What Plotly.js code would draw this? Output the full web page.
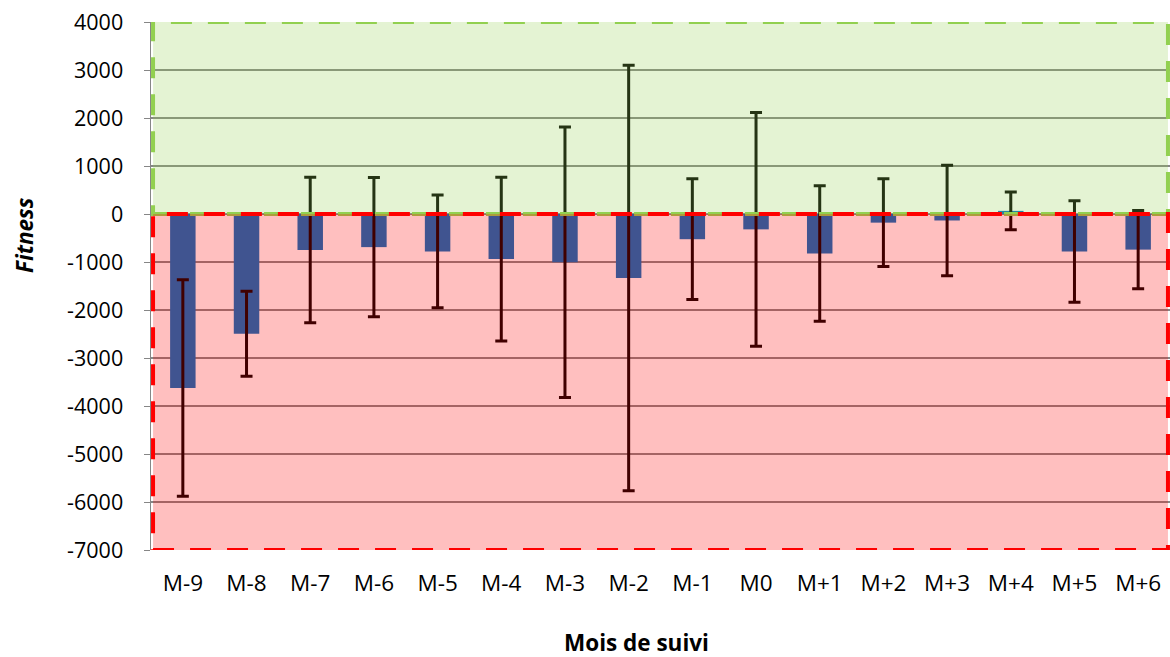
<!DOCTYPE html>
<html>
<head>
<meta charset="utf-8">
<script src="https://cdn.plot.ly/plotly-3.0.1.min.js"></script>
<style>html,body{margin:0;padding:0;background:#fff;}#chart{width:1170px;height:657px;}</style>
</head>
<body>
<div id="chart"></div>
<script>
var categories = ['M-9','M-8','M-7','M-6','M-5','M-4','M-3','M-2','M-1','M0','M+1','M+2','M+3','M+4','M+5','M+6'];
var fitness = [-3625,-2495,-750,-690,-780,-940,-1005,-1335,-525,-320,-822,-180,-135,65,-782,-742];
var fitnessError = [2255,886,1516,1451,1174,1704,2816,4433,1257,2437,1413,913,1149,393,1056,815];
var yTicks = [4000,3000,2000,1000,0,-1000,-2000,-3000,-4000,-5000,-6000,-7000];
var yTickLabels = ['4000','3000','2000','1000','0','-1000','-2000','-3000','-4000','-5000','-6000','-7000'];
var xTitle = 'Mois de suivi';
var yTitle = 'Fitness';

var yMin = Math.min.apply(null, yTicks), yMax = Math.max.apply(null, yTicks);
var boundaries = [];
for (var i = 0; i <= categories.length; i++) boundaries.push(i - 0.5);

var trace = {
  type: 'bar',
  x: categories,
  y: fitness,
  marker: {color: '#0070C0'},
  width: 0.4,
  error_y: {type: 'data', array: fitnessError, visible: true, color: '#000000', thickness: 3, width: 6},
  hoverinfo: 'x+y'
};

var fontFam = 'Open Sans, DejaVu Sans, sans-serif';
var layout = {
  width: 1170, height: 657,
  margin: {l: 151, r: 0, t: 22, b: 107},
  paper_bgcolor: '#ffffff', plot_bgcolor: '#ffffff',
  showlegend: false,
  font: {family: fontFam, color: '#000000', size: 21},
  xaxis: {
    type: 'category', categoryorder: 'array', categoryarray: categories,
    range: [-0.5, categories.length - 0.5],
    showline: false, ticks: '', showgrid: false, zeroline: false,
    tickfont: {family: fontFam, size: 22.5, color: '#000'},
    ticklabelstandoff: 17
  },
  xaxis2: {
    overlaying: 'x', anchor: 'free', position: (0 - yMin) / (yMax - yMin),
    range: [-0.5, categories.length - 0.5],
    tickmode: 'array', tickvals: boundaries, ticks: 'outside', ticklen: 6, tickwidth: 1,
    tickcolor: '#868686', showline: true, linecolor: '#868686', linewidth: 1.5,
    showticklabels: false, showgrid: false, zeroline: false
  },
  yaxis: {
    range: [yMin, yMax], tickmode: 'array', tickvals: yTicks, ticktext: yTickLabels,
    showgrid: true, gridcolor: '#868686', gridwidth: 1.3,
    showline: true, linecolor: '#868686', linewidth: 1.5,
    ticks: 'outside', ticklen: 6, tickcolor: '#868686',
    zeroline: false,
    tickfont: {family: fontFam, size: 21.5, color: '#000'},
    ticklabelstandoff: 16
  },
  shapes: [
    {type: 'rect', xref: 'paper', yref: 'y', x0: 0.002, x1: 0.998, y0: 0, y1: yMax,
     fillcolor: 'rgba(146,208,80,0.25)', line: {color: '#92D050', width: 4, dash: '21px,16px'}, layer: 'above'},
    {type: 'rect', xref: 'paper', yref: 'y', x0: 0.002, x1: 0.998, y0: yMin, y1: 0,
     fillcolor: 'rgba(255,0,0,0.25)', line: {color: '#FF0000', width: 4, dash: '21px,16px'}, layer: 'above'}
  ],
  annotations: [
    {text: '<b>' + xTitle + '</b>', xref: 'paper', yref: 'paper', x: 0.476, y: -0.176,
     xanchor: 'center', yanchor: 'middle', showarrow: false, font: {family: fontFam, size: 22.5, color: '#000'}},
    {text: '<b><i>' + yTitle + '</i></b>', xref: 'paper', yref: 'paper', x: -0.124, y: 0.596,
     xanchor: 'center', yanchor: 'middle', textangle: -90, showarrow: false, font: {family: fontFam, size: 22.5, color: '#000'}}
  ]
};

Plotly.newPlot('chart', [trace], layout, {displayModeBar: false, staticPlot: true});
</script>
</body>
</html>
